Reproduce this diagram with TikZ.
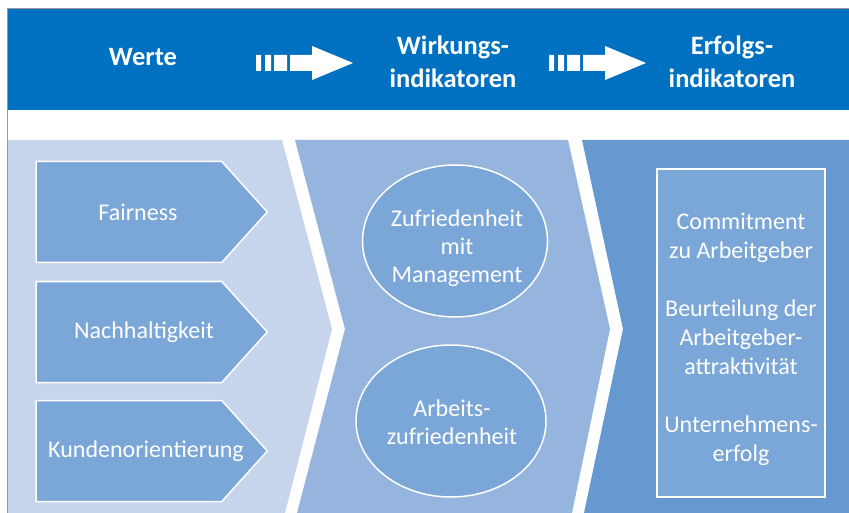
\documentclass[tikz,border=0pt]{standalone}
\usepackage{fontspec}
\setmainfont{Carlito}
\usetikzlibrary{shapes.geometric,shapes.symbols}
\definecolor{kopfblau}{RGB}{0,112,192}
\definecolor{hell}{RGB}{198,213,236}
\definecolor{mittel}{RGB}{150,181,222}
\definecolor{dunkel}{RGB}{102,153,208}
\definecolor{form}{RGB}{123,166,216}

\begin{document}
\begin{tikzpicture}[x=1pt,y=-1pt,
        kopf/.style={text=white,font=\fontsize{26.5}{33}\selectfont\bfseries,align=center},
        wert/.style={signal,signal to=east,signal pointer angle=96,draw=white,line width=1.5pt,
            fill=form,minimum width=231pt,minimum height=101pt,inner sep=0pt},
        weiss/.style={text=white,font=\fontsize{24}{28}\selectfont,align=center},
        oval/.style={ellipse,draw=white,line width=1.5pt,fill=form,
            minimum height=152pt,inner sep=0pt},
        kasten/.style={draw=white,line width=1.5pt,fill=form,
            minimum width=168pt,minimum height=328pt}]
    \useasboundingbox (0,0) rectangle (849,513);
    \fill[kopfblau] (7,9) rectangle (849,110);
    \draw[gray!80,line width=1pt] (7.5,513) -- (7.5,8.5) -- (849,8.5);
    \fill[hell] (8,140) -- (282,140) -- (332,329) -- (285,513) -- (8,513) -- cycle;
    \fill[mittel] (295,140) -- (568,140) -- (610,329) -- (572,513) -- (297,513) -- (345,329) -- cycle;
    \fill[dunkel] (582,140) -- (849,140) -- (849,513) -- (584,513) -- (623,329) -- cycle;

    \node[kopf] (werte) at (143,57) {Werte};
    \node[kopf] (wirkung) at (453,62) {Wirkungs-\\indikatoren};
    \node[kopf] (erfolg) at (732,62) {Erfolgs-\\indikatoren};
    \foreach \x in {256,549}
        \fill[white] (\x,55) rectangle ++(5,16) (\x+9,55) rectangle ++(6,16)
            (\x+18,55) rectangle ++(13,16)
            (\x+34,55) -- (\x+56,55) -- (\x+56,46) -- (\x+97,63) -- (\x+56,80)
            -- (\x+56,71) -- (\x+34,71) -- cycle;

    \node[wert] (fair) at (129,212) {};
    \node[wert] (nach) at (129,332) {};
    \node[wert] (kunde) at (129,451) {};
    \node[weiss] (fairtext) at (138,212) {Fairness};
    \node[weiss] (nachtext) at (144,332) {Nachhaltigkeit};
    \node[weiss] (kundetext) at (146,451) {Kundenorientierung};

    \node[oval,minimum width=185pt] (mgmt) at (455,241) {};
    \node[oval,minimum width=190pt] (arbeit) at (451,421) {};
    \node[weiss] (mgmttext) at (457,248) {Zufriedenheit\\mit\\Management};
    \node[weiss] (arbeittext) at (452,422) {Arbeits-\\zufriedenheit};

    \node[kasten] (erfolgbox) at (741,333) {};
    \node[weiss,font=\fontsize{24}{29}\selectfont] (erfolgtext) at (741,339)
        {Commitment\\zu Arbeitgeber\\[29pt]Beurteilung der\\Arbeitgeber-\\attraktivität\\[29pt]Unternehmens-\\erfolg};
\end{tikzpicture}
\end{document}
